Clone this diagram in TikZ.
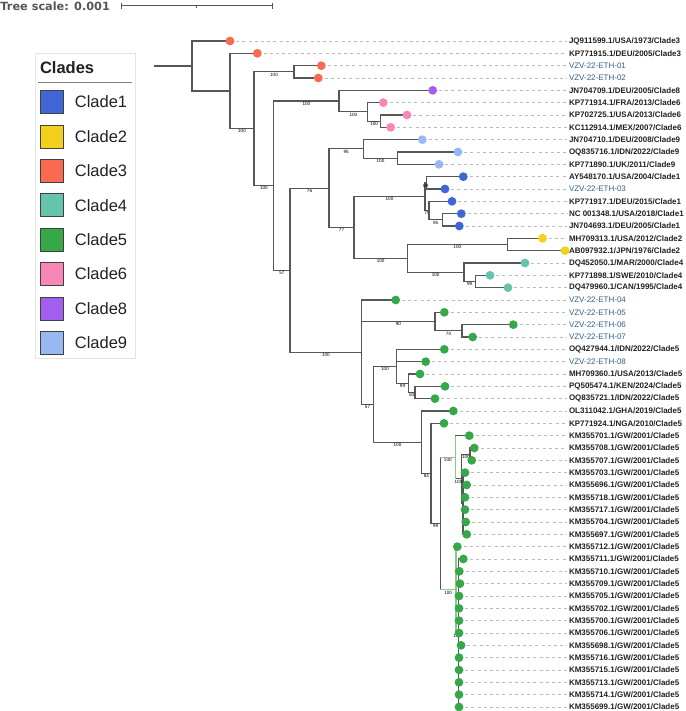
\documentclass[tikz,border=0pt]{standalone}
\usepackage{fontspec}
\setmainfont{Liberation Sans}
\newfontfamily\treescalefont{DejaVu Sans}
\usetikzlibrary{backgrounds}

\definecolor{clade1}{HTML}{3F66D4}
\definecolor{clade2}{HTML}{F1D11B}
\definecolor{clade3}{HTML}{FA6A50}
\definecolor{clade4}{HTML}{66C3AC}
\definecolor{clade5}{HTML}{36A84A}
\definecolor{clade6}{HTML}{F887B8}
\definecolor{clade8}{HTML}{A25FEF}
\definecolor{clade9}{HTML}{98B8F0}
\definecolor{branchgray}{HTML}{575757}
\definecolor{leadergray}{HTML}{BBBBBB}
\definecolor{ethblue}{HTML}{2E5E8E}
\definecolor{scalegray}{HTML}{555555}
\definecolor{palegreen}{HTML}{86CC86}

\tikzset{
  branch/.style={draw=branchgray,line width=1.2pt},
  greenbranch/.style={draw=palegreen,line width=1.2pt},
  support/.style={pos=0.75,anchor=north,inner sep=0.4pt,text=black,
    font=\fontsize{4.6}{5}\selectfont},
  tipdot/.style={circle,draw=none,inner sep=0pt,minimum size=8.8pt},
  tiplabel/.style={anchor=west,inner sep=0pt,outer sep=2pt,text=black!87,
    font=\fontsize{8}{9.6}\selectfont\bfseries},
  ethlabel/.style={tiplabel,text=ethblue,font=\fontsize{8}{9.6}\selectfont},
  leader/.style={draw=leadergray,line width=0.6pt,dash pattern=on 3pt off 3.2pt},
  swatch/.style={draw=black!75,line width=0.7pt,minimum size=23pt,inner sep=0pt},
  legendtext/.style={anchor=west,inner sep=0pt,text=black!87,
    font=\fontsize{16.5}{18}\selectfont},
  scalebar/.style={draw=scalegray,line width=0.9pt}
}

% one tip: dot, name and the dashed leader between them
\newcommand{\leaf}[5][tiplabel]{%
  \node[tipdot,fill=#4] (L#2) at (#3,{41+(#2-1)*12.333}) {};
  \node[#1] (T#2) at (567,{41+(#2-1)*12.333}) {#5};
  \begin{scope}[on background layer]
    \draw[leader] (L#2.center) -- (T#2);
  \end{scope}}

\begin{document}
\begin{tikzpicture}[x=1pt,y=-1pt]
  \useasboundingbox (0,0) rectangle (685,711);

  % tree scale
  \node[anchor=base west,inner sep=0pt,text=scalegray,
    font={\treescalefont\bfseries\fontsize{11.3}{13}\selectfont}] (tscale) at (0.3,10.1) {Tree scale: 0.001};
  \coordinate (sbl) at (121,5.7);
  \coordinate (sbr) at (272.3,5.7);
  \draw[scalebar] (sbl) -- (sbr);
  \draw[scalebar] (sbl) ++(0,-2.9) -- ++(0,5.8);
  \draw[scalebar] (sbr) ++(0,-2.9) -- ++(0,5.8);
  \draw[scalebar] (196.7,5.7) -- (196.7,7.6);

  % legend
  \draw[draw=black!10,line width=0.6pt] (35,53) rectangle (135,358);
  \node[anchor=west,inner sep=0pt,text=black!87,
    font=\fontsize{16.5}{18}\selectfont\bfseries] (ltitle) at (39.8,67.5) {Clades};
  \draw[draw=black!50,line width=1.1pt] (37.7,82.3) -- (131.7,82.3);
  \foreach \cl/\yy in {1/102,2/136.5,3/170.8,4/205.2,5/239.6,6/274,8/308.4,9/342.8} {
    \node[swatch,fill=clade\cl] (sw\cl) at (51.7,\yy) {};
    \node[legendtext] (lg\cl) at (74.7,\yy) {Clade\cl};
  }

  % inner nodes
  \coordinate (stub) at (154,66);
  \coordinate (R) at (192,66);
  \coordinate (N1) at (230,91);
  \coordinate (N2) at (254,128.7);
  \coordinate (N3) at (294,71.85);
  \coordinate (N4) at (273.7,185.6);
  \coordinate (N5) at (339,101.1);
  \coordinate (N7) at (367.7,111.9);
  \coordinate (N8) at (380.7,121.15);
  \coordinate (N6) at (290,270.15);
  \coordinate (N9) at (329,188.2);
  \coordinate (N11) at (363.3,148.9);
  \coordinate (N13) at (397.7,158.15);
  \coordinate (N12) at (354,227.55);
  \coordinate (N14) at (425,196.7);
  \coordinate (N16) at (426.5,182.85);
  \coordinate (N17) at (429,210.6);
  \coordinate (N18) at (442.3,219.85);
  \coordinate (N15) at (407.3,258.4);
  \coordinate (N19) at (507.3,244.5);
  \coordinate (N20) at (464,272.25);
  \coordinate (N21) at (475.3,281.5);
  \coordinate (N10) at (361.7,352.1);
  \coordinate (N22) at (435,321.6);
  \coordinate (N24) at (462,330.85);
  \coordinate (N23) at (373.3,404.25);
  \coordinate (N25) at (396.7,366.3);
  \coordinate (N27) at (408.3,383.25);
  \coordinate (N28) at (415,392.5);
  \coordinate (N26) at (421.7,442.2);
  \coordinate (N29) at (431,473.4);
  \coordinate (N30) at (440.3,523.55);
  \coordinate (G1) at (455.3,457.25);
  \coordinate (H) at (461.7,478.8);
  \coordinate (K) at (470,454.15);
  \coordinate (H2) at (463,503.5);
  \coordinate (G2) at (456,589.85);
  \coordinate (J) at (458.5,633);

  % tips
  \leaf{1}{230}{clade3}{JQ911599.1/USA/1973/Clade3}
  \leaf{2}{257.3}{clade3}{KP771915.1/DEU/2005/Clade3}
  \leaf[ethlabel]{3}{321.3}{clade3}{VZV-22-ETH-01}
  \leaf[ethlabel]{4}{318.3}{clade3}{VZV-22-ETH-02}
  \leaf{5}{432.7}{clade8}{JN704709.1/DEU/2005/Clade8}
  \leaf{6}{383.3}{clade6}{KP771914.1/FRA/2013/Clade6}
  \leaf{7}{407}{clade6}{KP702725.1/USA/2013/Clade6}
  \leaf{8}{390.7}{clade6}{KC112914.1/MEX/2007/Clade6}
  \leaf{9}{422.3}{clade9}{JN704710.1/DEU/2008/Clade9}
  \leaf{10}{458}{clade9}{OQ835716.1/IDN/2022/Clade9}
  \leaf{11}{439}{clade9}{KP771890.1/UK/2011/Clade9}
  \leaf{12}{463.3}{clade1}{AY548170.1/USA/2004/Clade1}
  \leaf[ethlabel]{13}{445}{clade1}{VZV-22-ETH-03}
  \leaf{14}{452}{clade1}{KP771917.1/DEU/2015/Clade1}
  \leaf{15}{461.3}{clade1}{NC 001348.1/USA/2018/Clade1}
  \leaf{16}{459.3}{clade1}{JN704693.1/DEU/2005/Clade1}
  \leaf{17}{542.5}{clade2}{MH709313.1/USA/2012/Clade2}
  \leaf{18}{565}{clade2}{AB097932.1/JPN/1976/Clade2}
  \leaf{19}{525}{clade4}{DQ452050.1/MAR/2000/Clade4}
  \leaf{20}{490}{clade4}{KP771898.1/SWE/2010/Clade4}
  \leaf{21}{508}{clade4}{DQ479960.1/CAN/1995/Clade4}
  \leaf[ethlabel]{22}{395.7}{clade5}{VZV-22-ETH-04}
  \leaf[ethlabel]{23}{444.3}{clade5}{VZV-22-ETH-05}
  \leaf[ethlabel]{24}{513.3}{clade5}{VZV-22-ETH-06}
  \leaf[ethlabel]{25}{472.7}{clade5}{VZV-22-ETH-07}
  \leaf{26}{444.3}{clade5}{OQ427944.1/IDN/2022/Clade5}
  \leaf[ethlabel]{27}{425.7}{clade5}{VZV-22-ETH-08}
  \leaf{28}{420}{clade5}{MH709360.1/USA/2013/Clade5}
  \leaf{29}{445}{clade5}{PQ505474.1/KEN/2024/Clade5}
  \leaf{30}{435}{clade5}{OQ835721.1/IDN/2022/Clade5}
  \leaf{31}{453.3}{clade5}{OL311042.1/GHA/2019/Clade5}
  \leaf{32}{444}{clade5}{KP771924.1/NGA/2010/Clade5}
  \leaf{33}{469.3}{clade5}{KM355701.1/GW/2001/Clade5}
  \leaf{34}{474.3}{clade5}{KM355708.1/GW/2001/Clade5}
  \leaf{35}{471.7}{clade5}{KM355707.1/GW/2001/Clade5}
  \leaf{36}{465}{clade5}{KM355703.1/GW/2001/Clade5}
  \leaf{37}{466.7}{clade5}{KM355696.1/GW/2001/Clade5}
  \leaf{38}{465}{clade5}{KM355718.1/GW/2001/Clade5}
  \leaf{39}{465}{clade5}{KM355717.1/GW/2001/Clade5}
  \leaf{40}{465.7}{clade5}{KM355704.1/GW/2001/Clade5}
  \leaf{41}{466.7}{clade5}{KM355697.1/GW/2001/Clade5}
  \leaf{42}{457.3}{clade5}{KM355712.1/GW/2001/Clade5}
  \leaf{43}{463.3}{clade5}{KM355711.1/GW/2001/Clade5}
  \leaf{44}{459.3}{clade5}{KM355710.1/GW/2001/Clade5}
  \leaf{45}{460}{clade5}{KM355709.1/GW/2001/Clade5}
  \leaf{46}{459}{clade5}{KM355705.1/GW/2001/Clade5}
  \leaf{47}{459}{clade5}{KM355702.1/GW/2001/Clade5}
  \leaf{48}{459}{clade5}{KM355700.1/GW/2001/Clade5}
  \leaf{49}{459}{clade5}{KM355706.1/GW/2001/Clade5}
  \leaf{50}{461}{clade5}{KM355698.1/GW/2001/Clade5}
  \leaf{51}{459}{clade5}{KM355716.1/GW/2001/Clade5}
  \leaf{52}{459}{clade5}{KM355715.1/GW/2001/Clade5}
  \leaf{53}{459}{clade5}{KM355713.1/GW/2001/Clade5}
  \leaf{54}{459}{clade5}{KM355714.1/GW/2001/Clade5}
  \leaf{55}{459}{clade5}{KM355699.1/GW/2001/Clade5}

  % branches
  \begin{scope}[on background layer]
    \draw[branch] (stub) -- (R);
    \foreach \pn/\cn in {R/L1,R/N1,N1/L2,N3/L3,N3/L4,N5/L5,N7/L6,N8/L7,N8/L8,
        N11/L9,N13/L10,N13/L11,N16/L12,N16/L13,N17/L14,N18/L15,N18/L16,
        N19/L17,N19/L18,N20/L19,N21/L20,N21/L21,N10/L22,N22/L23,N24/L24,N24/L25,
        N25/L26,N25/L27,N27/L28,N28/L29,N28/L30,N26/L31,N29/L32,G1/L33,
        K/L34,K/L35,H/H2,H2/L36,H2/L37,H2/L38,H2/L39,H2/L40,H2/L41,G2/L42,
        J/L43,J/L44,J/L45,J/L46,J/L47,J/L48,J/L49,J/L50,J/L51,J/L52,J/L53,J/L54,J/L55}
      \draw[branch] (\pn) |- (\cn.center);
    \foreach \pn/\cn/\bs in {N1/N2/100,N2/N3/100,N2/N4/100,N4/N5/100,N5/N7/100,
        N7/N8/100,N4/N6/57,N6/N9/76,N9/N11/95,N11/N13/100,N9/N12/77,N12/N14/100,
        N14/N16/69,N14/N17/79,N17/N18/95,N12/N15/100,N15/N19/100,N15/N20/100,
        N20/N21/99,N6/N10/100,N10/N22/90,N22/N24/70,N10/N23/57,N23/N25/100,
        N25/N27/99,N27/N28/50,N23/N26/100,N26/N29/84,N29/N30/99,N30/G1/100,
        G1/H/100,H/K/100,N30/G2/100,G2/J/100}
      \draw[branch] (\pn) |- node[support] {\bs} (\cn);
    \draw[greenbranch] (N30 |- G1) -- (G1);
    \draw[greenbranch] (G1 |- L33) -- (G1 |- H);
    \draw[greenbranch] (N30 |- G2) -- (G2);
    \draw[greenbranch] (G2 |- L42) -- (G2 |- J);
  \end{scope}
\end{tikzpicture}
\end{document}
